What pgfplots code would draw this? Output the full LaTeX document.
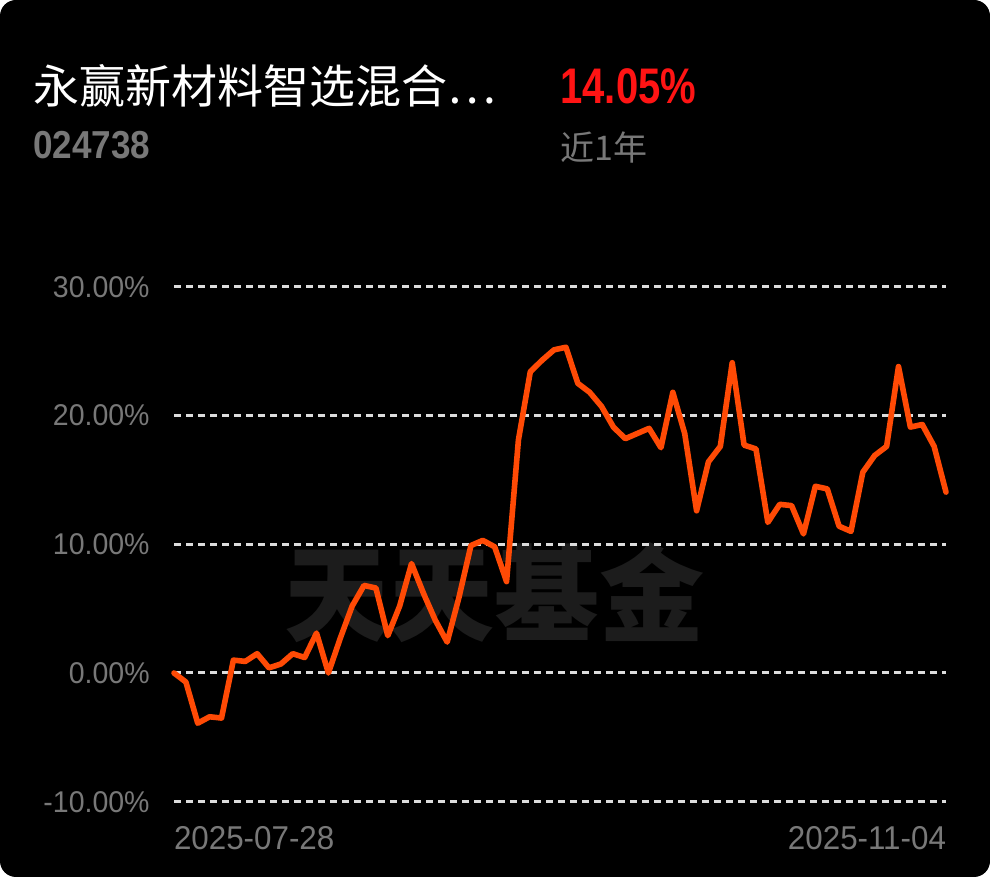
\documentclass[border=0pt]{standalone}
\usepackage{fontspec}
\setmainfont{Liberation Sans}
\newfontfamily\cjk{Noto Sans CJK SC}
\newfontfamily\numA{Liberation Sans}[FakeStretch=0.8]
\newfontfamily\numB{Liberation Sans}[FakeStretch=0.9]
\newfontfamily\tickf{Liberation Sans}[FakeStretch=0.95]
\usepackage{pgfplots}
\pgfplotsset{compat=1.18}
\definecolor{linec}{HTML}{FF4A05}
\definecolor{gridc}{HTML}{DCDCDC}
\definecolor{labc}{HTML}{787878}
\definecolor{redc}{HTML}{FF1414}
\definecolor{wmc}{HTML}{1C1C1C}
\begin{document}
\begin{tikzpicture}[x=1pt,y=1pt]
\fill[white] (0,0) rectangle (495,438.5);
\fill[black, rounded corners=8pt] (0,0) rectangle (495,438.5);
\node[anchor=west, inner sep=0pt, text=white, font=\cjk\fontsize{23}{23}\selectfont] at (16.5,395.5) {永赢新材料智选混合…};
\node[anchor=west, inner sep=0pt, text=redc, font=\numA\bfseries\fontsize{25}{25}\selectfont] at (280,395.5) {14.05\%};
\node[anchor=west, inner sep=0pt, text=labc, font=\numB\bfseries\fontsize{19.5}{19.5}\selectfont] at (16.5,366) {024738};
\node[anchor=west, inner sep=0pt, text=labc, font=\cjk\fontsize{17}{17}\selectfont] at (280,364.5) {近1年};
\node[anchor=west, inner sep=0pt, text=wmc, font=\cjk\bfseries\fontsize{52.5}{52.5}\selectfont] at (142,142) {天天基金};
\begin{axis}[
  at={(87pt,102pt)}, anchor=origin,
  scale only axis, width=386pt, height=257.5pt,
  xmin=0, xmax=65, ymin=-10, ymax=30,
  axis line style={draw=none},
  major tick style={draw=none},
  ytick={-10,0,10,20,30},
  yticklabels={-10.00\%,0.00\%,10.00\%,20.00\%,30.00\%},
  yticklabel style={anchor=east, inner sep=0pt, xshift=-12pt, text=labc, font=\tickf\fontsize{15}{15}\selectfont},
  xtick={0,65},
  xticklabels={\makebox[0pt][l]{2025-07-28},\makebox[0pt][r]{2025-11-04}},
  xticklabel style={anchor=north, inner sep=0pt, yshift=-12pt, text=labc, font=\tickf\fontsize{16.5}{16.5}\selectfont},
  ymajorgrids,
  grid style={gridc, line width=1.5pt, dash pattern=on 3.5pt off 2.5pt},
  clip=false,
]
\addplot[linec, line width=2.8pt, line join=round, line cap=round] coordinates {
(0,0) (1,-0.7) (2,-3.9) (3,-3.4) (4,-3.5) (5,1.0) (6,0.9) (7,1.5) (8,0.4) (9,0.7)
(10,1.5) (11,1.2) (12,3.1) (13,0.0) (14,2.7) (15,5.2) (16,6.8) (17,6.6) (18,2.9) (19,5.2)
(20,8.5) (21,6.2) (22,4.1) (23,2.4) (24,5.9) (25,9.9) (26,10.3) (27,9.8) (28,7.1) (29,18.1)
(30,23.4) (31,24.3) (32,25.1) (33,25.3) (34,22.5) (35,21.8) (36,20.7) (37,19.1) (38,18.2) (39,18.6)
(40,19.0) (41,17.5) (42,21.8) (43,18.6) (44,12.6) (45,16.4) (46,17.6) (47,24.1) (48,17.7) (49,17.4)
(50,11.7) (51,13.1) (52,13.0) (53,10.8) (54,14.5) (55,14.3) (56,11.4) (57,11.0) (58,15.6) (59,16.9)
(60,17.6) (61,23.8) (62,19.1) (63,19.3) (64,17.6) (65,14.05)
};
\end{axis}
\end{tikzpicture}
\end{document}
